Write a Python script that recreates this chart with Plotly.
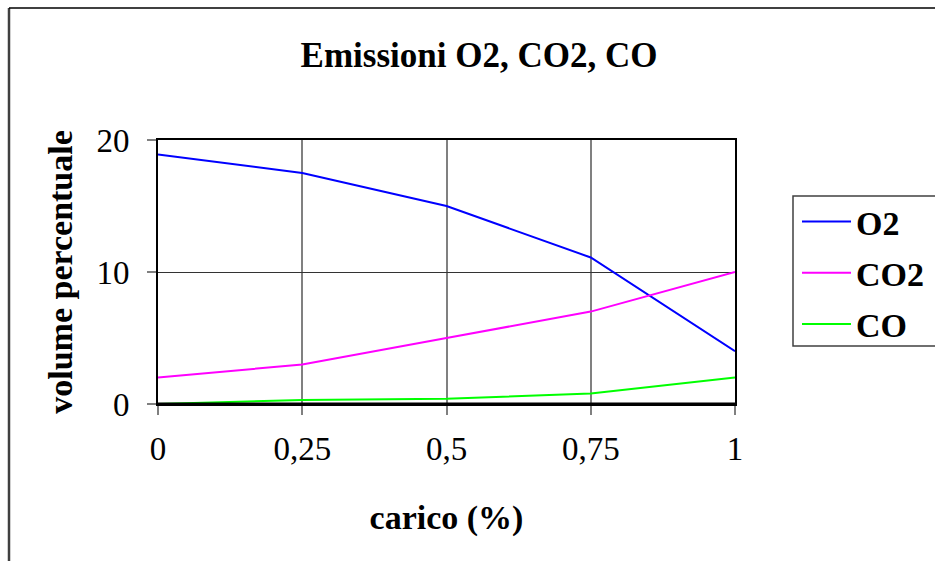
import plotly.graph_objects as go

# carico (fraction of full load) and emissions in volume percent
carico = [0, 0.25, 0.5, 0.75, 1]
o2 = [18.9, 17.5, 15.0, 11.1, 4.0]
co2 = [2.0, 3.0, 5.0, 7.0, 10.0]
co = [0.0, 0.3, 0.4, 0.8, 2.0]

x_ticks = [0, 0.25, 0.5, 0.75, 1]
x_tick_text = ["0", "0,25", "0,5", "0,75", "1"]
y_ticks = [0, 10, 20]

series = [("O2", o2, "#0000FF"), ("CO2", co2, "#FF00FF"), ("CO", co, "#00FF00")]

FONT = "Liberation Serif, Times New Roman, serif"

fig = go.Figure()
for name, vals, color in series:
    fig.add_trace(go.Scatter(
        x=carico, y=vals, mode="lines", name=f"<b>{name}</b>", legendgroup=name,
        line=dict(color=color, width=2),
    ))

L, R, T, B = 158, 200, 140, 157
W, H = 935, 561
pw, ph = W - L - R, H - T - B

def px_x(p):
    return (p - L) / pw

def px_y(p):
    return (H - B - p) / ph

fig.update_layout(
    width=W, height=H,
    margin=dict(l=L, r=R, t=T, b=B, autoexpand=False),
    paper_bgcolor="white", plot_bgcolor="white",
    font=dict(family=FONT, size=33, color="black"),
    title=dict(
        text="<b>Emissioni O2, CO2, CO</b>",
        x=479 / W, xanchor="center", y=1 - 55 / H, yanchor="middle",
        yref="container", xref="container",
        font=dict(family=FONT, size=35, color="black"),
    ),
    showlegend=True,
    legend=dict(
        x=px_x(797), xanchor="left", y=px_y(193), yanchor="top",
        borderwidth=0, bgcolor="rgba(0,0,0,0)",
        font=dict(family=FONT, size=34, color="black"),
        traceorder="grouped", tracegroupgap=4,
        itemwidth=49,
    ),
    xaxis=dict(
        range=[0, 1], tickvals=x_ticks, ticktext=x_tick_text,
        showgrid=True, gridcolor="#808080", gridwidth=1.5,
        showline=True, linecolor="black", linewidth=2, mirror=True,
        ticks="outside", ticklen=9, tickcolor="#808080", tickwidth=1.5,
        zeroline=False, ticklabelstandoff=5,
        title=dict(text="<b>carico (%)</b>", standoff=40,
                   font=dict(family=FONT, size=34)),
        tickfont=dict(family=FONT, size=33),
    ),
    yaxis=dict(
        range=[0, 20], tickvals=y_ticks,
        showgrid=True, gridcolor="#333333", gridwidth=1,
        showline=True, linecolor="black", linewidth=2, mirror=True,
        ticks="outside", ticklen=9, tickcolor="#808080", tickwidth=1.5,
        zeroline=False, ticklabelstandoff=11,
        title=dict(text="<b>volume percentuale</b>", standoff=14,
                   font=dict(family=FONT, size=34)),
        tickfont=dict(family=FONT, size=33),
    ),
)

# thicker baseline under the plot area
fig.add_shape(type="line", xref="paper", yref="paper", x0=0, x1=1, y0=0, y1=0,
              line=dict(color="black", width=3), layer="above")

# legend frame running off the right edge
fig.add_shape(type="rect", xref="paper", yref="paper",
              x0=px_x(793), x1=px_x(W + 30), y0=px_y(346), y1=px_y(196),
              line=dict(color="#404040", width=1.5), fillcolor="white", layer="below")

# outer chart frame (left and top edges)
fig.add_shape(type="line", xref="paper", yref="paper",
              x0=px_x(9), x1=px_x(9), y0=px_y(8), y1=px_y(H + 20),
              line=dict(color="#404040", width=2.5))
fig.add_shape(type="line", xref="paper", yref="paper",
              x0=px_x(9), x1=px_x(W + 20), y0=px_y(8), y1=px_y(8),
              line=dict(color="black", width=1.5))

fig.write_html("out.html")
